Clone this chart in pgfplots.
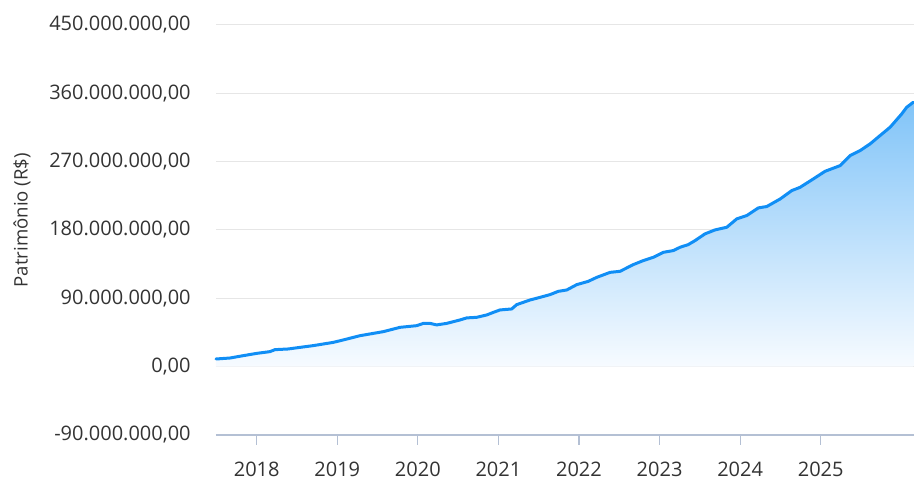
\documentclass[border=0pt]{standalone}
\usepackage{pgfplots}
\pgfplotsset{compat=1.18}
\usepackage{fontspec}
\setmainfont{Open Sans}
\definecolor{linec}{RGB}{16,142,245}
\definecolor{topc}{RGB}{129,196,248}
\definecolor{botc}{RGB}{247,251,255}
\definecolor{gridc}{RGB}{230,230,230}
\definecolor{axisc}{RGB}{180,192,212}
\definecolor{labc}{RGB}{51,51,51}
\begin{document}
\begin{tikzpicture}
\path[use as bounding box] (-108pt,-22.5pt) rectangle (349pt,217.5pt);
\begin{axis}[
  scale only axis,
  width=349pt, height=205pt,
  xmin=2017.495, xmax=2026.158,
  ymin=-90, ymax=450,
  axis y line*=left,
  axis x line*=bottom,
  x axis line style={draw=axisc, line width=0.9pt, -},
  y axis line style={draw=none, -},
  xtick={2018,2019,2020,2021,2022,2023,2024,2025},
  xticklabels={2018,2019,2020,2021,2022,2023,2024,2025},
  tick align=outside,
  major tick length=5pt,
  xtick style={draw=axisc, line width=0.6pt},
  ytick style={draw=none},
  xticklabel style={font=\fontsize{10}{12}\selectfont, text=labc, inner sep=0pt, anchor=base, yshift=-16pt},
  ytick={-90,0,90,180,270,360,450},
  yticklabels={{-90.000.000,00},{0,00},{90.000.000,00},{180.000.000,00},{270.000.000,00},{360.000.000,00},{450.000.000,00}},
  yticklabel style={font=\fontsize{10}{12}\selectfont, text=labc, inner sep=0pt, anchor=east, xshift=-7.5pt},
  ymajorgrids,
  grid style={draw=gridc, line width=0.5pt},
  ylabel={Patrimônio (R\$)},
  ylabel style={font=\fontsize{9.3}{11}\selectfont, text=labc, at={(axis description cs:-0.278,0.524)}, anchor=center},
  clip=false,
]
\pgfplotstableread{
x y
2017.495 10.1
2017.669 11.4
2017.834 14.5
2018.000 17.5
2018.165 19.8
2018.227 22.4
2018.392 23.3
2018.537 25.4
2018.702 27.7
2018.951 32.0
2019.075 35.2
2019.282 40.8
2019.571 46.1
2019.779 51.8
2019.986 54.0
2020.068 57.0
2020.151 57.0
2020.234 55.0
2020.358 57.0
2020.523 61.5
2020.606 64.2
2020.731 65.0
2020.855 68.1
2020.937 71.5
2021.020 74.7
2021.165 76.0
2021.227 81.7
2021.392 87.8
2021.517 91.3
2021.641 94.9
2021.743 99.2
2021.848 101.0
2021.972 108.0
2022.116 112.4
2022.220 117.6
2022.386 124.2
2022.510 125.6
2022.674 134.4
2022.798 139.7
2022.922 144.0
2023.047 150.6
2023.171 152.9
2023.254 157.2
2023.357 160.8
2023.440 166.0
2023.564 174.9
2023.688 180.1
2023.834 183.6
2023.958 194.6
2024.082 199.0
2024.226 209.1
2024.330 210.9
2024.496 220.8
2024.641 231.9
2024.744 236.2
2024.909 247.3
2025.054 257.3
2025.241 264.8
2025.365 278.0
2025.489 284.6
2025.613 293.4
2025.737 304.4
2025.861 315.3
2026.006 332.9
2026.068 341.7
2026.150 348.3
}\datatab
\addplot[draw=none, top color=topc, bottom color=botc, forget plot] table[x=x,y=y] {\datatab} \closedcycle;
\addplot[linec, line width=1.5pt, line join=round, line cap=round] table[x=x,y=y] {\datatab};
\end{axis}
\end{tikzpicture}
\end{document}
